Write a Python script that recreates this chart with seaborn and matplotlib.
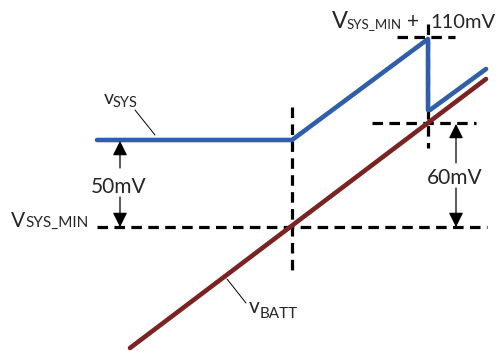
import matplotlib
matplotlib.use("Agg")
import matplotlib.pyplot as plt
import seaborn as sns
import pandas as pd

# Diagram coordinates (pixel-like units, y grows downward)
vsys_x = [97, 292, 428, 428, 430, 486]
vsys_y = [140, 140, 39, 110, 110, 69]
vbatt_x = [130, 486]
vbatt_y = [348, 79]

# dashed guide lines: (x0, x1, y0, y1)
guides = [
    (97, 487, 227, 227),    # VSYS_MIN level
    (292, 292, 107, 276),   # vertical at knee
    (428, 428, 24, 148),    # vertical at drop
    (397, 455, 37, 37),     # VSYS_MIN + 110mV level
    (372, 476, 123, 123),   # level at drop bottom
]

labels_text = ["50mV", "60mV"]

sns.set_style("white")
plt.rcParams['font.family'] = ['Lato', 'DejaVu Sans']

fig = plt.figure(figsize=(5.01, 3.51), dpi=100)
ax = fig.add_axes([0, 0, 1, 1])

dash = (3.3, 2.0)
for (x0, x1, y0, y1) in guides:
    ax.plot([x0, x1], [y0, y1], color="black", lw=2.3, ls=(0, dash), solid_capstyle="butt")

df_b = pd.DataFrame({"x": vbatt_x, "y": vbatt_y})
sns.lineplot(data=df_b, x="x", y="y", ax=ax, color="#7b2222", lw=3.3, sort=False, estimator=None)
df_s = pd.DataFrame({"x": vsys_x, "y": vsys_y, "seg": [0, 0, 0, 0, 1, 1]})
sns.lineplot(data=df_s[df_s.seg == 0], x="x", y="y", ax=ax, color="#2f5fab", lw=3.3, sort=False, estimator=None)
sns.lineplot(data=df_s[df_s.seg == 1], x="x", y="y", ax=ax, color="#2f5fab", lw=3.3, sort=False, estimator=None)
ax.set_xlim(0, 501)
ax.set_ylim(351, 0)
ax.axis("off")

# arrows
ap = dict(arrowstyle="-|>", color="black", lw=0.9, mutation_scale=22, shrinkA=0, shrinkB=0)
ax.annotate("", xy=(120, 141), xytext=(120, 168), arrowprops=ap)
ax.annotate("", xy=(120, 227), xytext=(120, 197), arrowprops=ap)
ax.text(119, 193, labels_text[0], ha="center", va="baseline", fontsize=15)
ax.annotate("", xy=(456, 124), xytext=(456, 163), arrowprops=ap)
ax.annotate("", xy=(456, 227), xytext=(456, 188), arrowprops=ap)
ax.text(455, 184, labels_text[1], ha="center", va="baseline", fontsize=15)

# labels (main letter + subscript as separate texts)
ax.text(11, 227, "V", ha="left", va="baseline", fontsize=15)
ax.text(25, 227, "SYS_MIN", ha="left", va="baseline", fontsize=11)
ax.text(332, 28, "V", ha="left", va="baseline", fontsize=17)
ax.text(347, 28, "SYS_MIN", ha="left", va="baseline", fontsize=9.5)
ax.text(407, 28, "+", ha="left", va="baseline", fontsize=15)
ax.text(430, 28, "110mV", ha="left", va="baseline", fontsize=14.5)
ax.text(104, 104, "v", ha="left", va="baseline", fontsize=14)
ax.text(113, 107, "SYS", ha="left", va="baseline", fontsize=10.5)
ax.text(249, 313, "v", ha="left", va="baseline", fontsize=15)
ax.text(260, 318, "BATT", ha="left", va="baseline", fontsize=11)
# leader lines
ax.plot([135, 155], [110, 135], color="black", lw=0.7)
ax.plot([227, 246], [279, 303], color="black", lw=0.7)

fig.savefig("out.png", dpi=100)
